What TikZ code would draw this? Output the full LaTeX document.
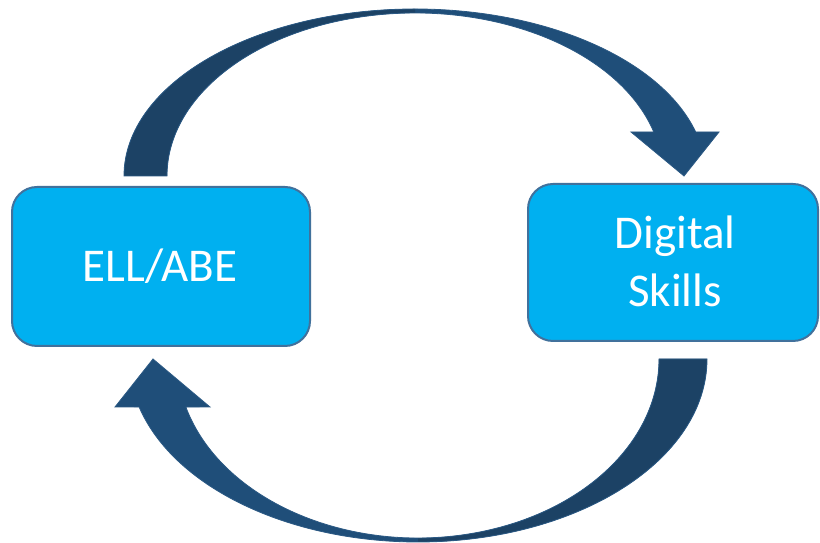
\documentclass[tikz,border=0pt]{standalone}
\usepackage{fontspec}
\setmainfont{Carlito}
\usetikzlibrary{calc}
\definecolor{boxfill}{HTML}{00B0F0}
\definecolor{boxline}{HTML}{41719C}
\definecolor{arrfront}{HTML}{1F4E79}
\definecolor{arrback}{HTML}{1C4265}
\definecolor{arrline}{HTML}{2B5984}
\tikzset{
  boxnode/.style={draw=boxline, line width=2pt, fill=boxfill, rounded corners=25pt, inner sep=0pt},
  lbl/.style={text=white, font=\fontsize{47}{57}\selectfont, inner sep=0pt, anchor=base},
  arrowfill/.style={fill=arrfront},
  arrowback/.style={fill=arrback},
  arrowedge/.style={draw=arrline, line width=0.8pt, line join=miter}
}
\begin{document}
\begin{tikzpicture}[x=1pt,y=1pt]
\fill[white] (0,0) rectangle (820,543);
\useasboundingbox (0,0) rectangle (820,543);

% boxes
\node[boxnode, minimum width=298pt, minimum height=159pt] (ell) at (161,276.5) {};
\node[boxnode, minimum width=290pt, minimum height=157pt] (dig) at (673,280.5) {};
\node[lbl] (tell) at (160,261) {ELL/ABE};
\node[lbl] (tdig) at (675,294) {Digital};
\node[lbl] (tski) at (675,236) {Skills};

% top curved arrow (ELL/ABE -> Digital Skills)
\coordinate (tc) at (415,367);
\def\toparrow{(124,367) arc[start angle=180, end angle=15.28, x radius=291, y radius=167]
  -- (719,411) -- (684,367) -- (631,411)
  -- ($(tc)+(15.66:248 and 163)$) arc[start angle=15.66, end angle=180, x radius=248, y radius=163]
  -- cycle}
\fill[arrowfill] \toparrow;
\begin{scope}
  \clip (0,0) rectangle (415,543);
  \fill[arrowback] \toparrow;
\end{scope}
\draw[arrowedge] \toparrow;

% bottom curved arrow (Digital Skills -> ELL/ABE)
\coordinate (bc) at (418,184);
\def\botarrow{(707,184) arc[start angle=0, end angle=-164.79, x radius=289, y radius=183]
  -- (115,136) -- (153,184) -- (210,136)
  -- ($(bc)+(-164.44:241 and 179)$) arc[start angle=-164.44, end angle=0, x radius=241, y radius=179]
  -- cycle}
\fill[arrowfill] \botarrow;
\begin{scope}
  \clip (418,0) rectangle (820,543);
  \fill[arrowback] \botarrow;
\end{scope}
\draw[arrowedge] \botarrow;
\end{tikzpicture}
\end{document}
